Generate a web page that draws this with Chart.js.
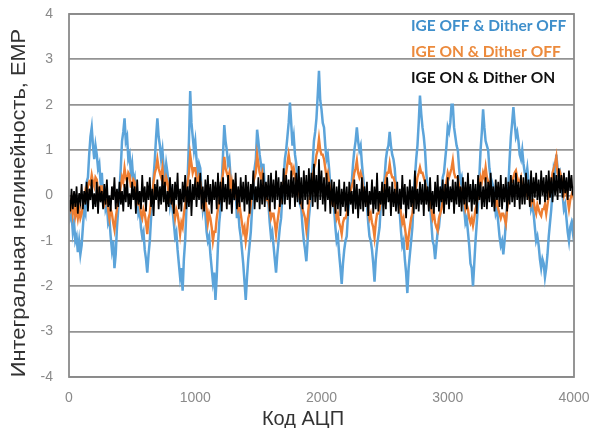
<!DOCTYPE html>
<html><head><meta charset="utf-8">
<script src="https://cdn.jsdelivr.net/npm/chart.js@4.4.1/dist/chart.umd.min.js"></script>
<style>html,body{margin:0;padding:0;background:#fff}#wrap{width:592px;height:428px}</style>
</head><body><div id="wrap"><canvas id="c" width="592" height="428"></canvas></div>
<script>
const xTitle = 'Код АЦП';
const yTitle = 'Интегральная нелинейность, ЕМР';
const seriesNames = ['IGE OFF & Dither OFF', 'IGE ON & Dither OFF', 'IGE ON & Dither ON'];
const xTickValues = [0, 1000, 2000, 3000, 4000];
const yTickValues = [-4, -3, -2, -1, 0, 1, 2, 3, 4];

// ADC code step of the sampled series (codes 0..4000)
const codeStep = 10;

// IGE OFF & Dither OFF
const blueValues = [
 -0.2,-0.5,-0.4,-0.8,-0.6,-1.0,-0.9,-1.25,-1.0,-1.3,
 -1.1,-0.7,-0.3,-0.4,0.3,0.4,0.9,1.3,1.5,1.1,
 0.8,1.1,0.9,0.6,0.7,0.3,0.5,0.0,0.2,-0.3,
 -0.2,-0.6,-0.5,-0.9,-1.2,-1.0,-1.6,-1.3,-0.7,-0.3,
 0.1,0.6,1.2,1.4,1.7,1.2,1.3,0.8,0.9,0.5,
 0.7,0.3,0.4,-0.1,0.1,-0.4,-0.3,-0.7,-0.9,-0.8,
 -1.2,-1.4,-1.7,-1.3,-1.0,-0.5,-0.1,0.4,0.8,1.3,
 1.7,1.3,1.1,0.8,1.0,0.6,0.4,0.7,0.5,0.2,
 -0.2,0.0,-0.3,-0.6,-0.9,-0.8,-1.2,-1.5,-1.8,-1.6,
 -2.1,-1.4,-1.0,-0.3,0.4,1.2,2.3,1.6,1.3,1.0,
 1.2,0.8,0.5,0.7,0.6,0.1,-0.3,-0.1,-0.4,-0.8,
 -1.0,-0.9,-1.3,-1.6,-1.9,-1.7,-2.3,-1.8,-1.1,-0.6,
 -0.3,0.3,0.9,1.55,1.2,1.0,0.7,0.8,0.4,0.2,
 0.2,-0.1,0.2,-0.5,-0.3,-0.7,-0.9,-1.2,-1.5,-1.9,
 -2.3,-1.8,-1.4,-1.1,-0.8,-0.3,0.3,0.6,0.8,1.45,
 1.2,0.9,0.7,0.5,0.7,0.2,0.1,-0.1,-0.2,-0.6,
 -0.9,-0.8,-1.1,-1.4,-1.7,-1.3,-1.0,-0.7,-0.5,0.0,
 0.4,0.8,1.0,1.3,1.6,2.05,1.6,1.1,1.3,0.9,
 0.7,0.3,0.0,-0.2,-0.3,-0.7,-1.0,-1.2,-1.45,-1.0,
 -0.5,-0.2,0.2,0.7,1.2,1.4,1.7,2.2,2.75,2.1,
 1.9,1.6,1.5,1.1,0.8,0.9,0.6,0.2,0.0,-0.1,
 -0.3,-0.7,-1.0,-0.9,-1.3,-1.6,-1.95,-1.5,-1.2,-1.0,
 -0.9,-0.4,-0.1,0.1,0.3,0.7,1.0,1.2,1.5,1.2,
 1.0,1.1,0.7,0.4,0.1,-0.1,-0.2,-0.6,-0.9,-1.0,
 -1.2,-1.5,-1.9,-1.4,-1.1,-0.9,-0.7,-0.2,0.1,0.2,
 0.4,0.8,1.0,1.1,1.4,1.1,0.9,0.8,0.6,0.2,
 -0.1,-0.2,-0.4,-0.8,-1.1,-1.0,-1.4,-1.7,-2.15,-1.6,
 -1.3,-1.0,-0.7,-0.1,0.4,0.8,1.1,1.6,2.2,1.8,
 1.5,1.3,1.0,0.5,0.2,0.0,-0.2,-0.6,-1.0,-1.1,
 -1.4,-1.1,-0.8,-0.7,-0.4,0.0,0.4,0.5,0.8,1.1,
 1.5,1.4,1.6,2.0,2.0,1.5,1.3,1.1,1.0,0.6,
 0.3,0.4,0.1,-0.3,-0.6,-0.5,-0.8,-1.1,-1.5,-1.6,
 -2.0,-1.5,-1.0,-0.6,-0.2,0.4,1.0,1.4,1.9,1.5,
 1.2,1.1,1.0,0.6,0.4,0.3,0.2,-0.1,-0.4,-0.3,
 -0.6,-0.9,-1.1,-1.0,-1.3,-1.0,-0.6,-0.2,0.2,0.8,
 1.3,1.6,1.95,1.6,1.3,1.4,1.2,0.9,0.8,1.0,
 0.7,0.5,0.4,0.6,0.3,0.1,-0.3,-0.2,-0.4,-0.7,
 -1.0,-0.9,-1.1,-1.4,-1.6,-1.4,-1.5,-1.8,-1.6,-1.3,
 -0.9,-0.6,-0.3,0.1,0.6,0.5,0.9,0.6,0.4,0.5,
 0.3,0.0,-0.3,-0.2,-0.5,-0.8,-1.0,-0.7,-0.6,-0.8,
 -0.5
];

// IGE ON & Dither OFF
const orangeValues = [
 -0.2,-0.3,-0.1,-0.4,-0.2,-0.45,-0.3,-0.5,-0.3,-0.5,
 -0.4,-0.2,-0.1,0.1,0.0,0.2,0.3,0.25,0.45,0.3,
 0.2,0.4,0.35,0.1,0.0,0.2,0.2,-0.1,-0.2,-0.1,
 -0.1,-0.3,-0.5,-0.3,-0.4,-0.6,-0.75,-0.5,-0.3,-0.1,
 0.0,0.2,0.4,0.3,0.6,0.4,0.3,0.5,0.45,0.2,
 0.2,0.35,0.3,0.0,-0.1,-0.2,-0.2,-0.4,-0.5,-0.3,
 -0.4,-0.6,-0.85,-0.5,-0.4,-0.1,0.0,0.3,0.5,0.6,
 0.8,0.6,0.5,0.4,0.6,0.3,0.2,0.4,0.3,0.0,
 -0.1,0.0,-0.2,-0.3,-0.5,-0.3,-0.4,-0.6,-0.85,-0.6,
 -0.7,-0.4,-0.2,0.0,0.3,0.5,0.9,0.7,0.5,0.6,
 0.6,0.4,0.2,0.4,0.3,0.0,-0.2,0.0,-0.1,-0.3,
 -0.6,-0.4,-0.5,-0.7,-1.0,-0.8,-0.8,-0.5,-0.3,-0.1,
 0.1,0.3,0.5,0.85,0.6,0.5,0.4,0.5,0.1,0.3,
 0.1,0.0,0.2,-0.1,-0.3,-0.2,-0.4,-0.6,-0.8,-0.7,
 -1.0,-0.8,-0.5,-0.4,-0.2,0.1,0.3,0.4,0.5,0.9,
 0.7,0.5,0.4,0.5,0.2,0.0,0.0,-0.1,-0.1,-0.3,
 -0.5,-0.4,-0.4,-0.6,-0.85,-0.6,-0.4,-0.2,-0.1,0.1,
 0.3,0.4,0.5,0.7,0.9,0.7,0.7,0.5,0.6,0.4,
 0.3,0.2,0.1,-0.1,-0.2,-0.3,-0.4,-0.5,-0.75,-0.5,
 -0.2,0.0,0.2,0.4,0.6,0.7,0.9,1.0,1.25,1.0,
 0.9,0.9,0.8,0.6,0.4,0.5,0.3,0.1,-0.1,0.0,
 -0.2,-0.3,-0.5,-0.4,-0.6,-0.7,-0.85,-0.6,-0.5,-0.5,
 -0.4,-0.2,0.0,0.1,0.2,0.3,0.5,0.6,0.77,0.5,
 0.4,0.5,0.4,0.1,0.0,0.0,-0.1,-0.3,-0.5,-0.4,
 -0.6,-0.7,-0.92,-0.6,-0.4,-0.4,-0.3,-0.1,0.1,0.1,
 0.2,0.4,0.5,0.5,0.7,0.5,0.4,0.4,0.3,0.1,
 -0.1,-0.1,-0.2,-0.4,-0.6,-0.5,-0.7,-0.9,-1.2,-0.9,
 -0.7,-0.5,-0.4,-0.1,0.1,0.2,0.4,0.5,0.62,0.5,
 0.5,0.4,0.3,0.1,0.0,0.0,-0.2,-0.3,-0.5,-0.4,
 -0.6,-0.7,-0.77,-0.5,-0.4,-0.3,-0.1,0.0,0.2,0.3,
 0.5,0.4,0.5,0.6,0.77,0.5,0.4,0.4,0.4,0.2,
 0.0,0.1,0.0,-0.1,-0.3,-0.2,-0.3,-0.5,-0.6,-0.5,
 -0.66,-0.5,-0.3,-0.2,0.0,0.2,0.4,0.3,0.5,0.4,
 0.62,0.4,0.3,0.3,0.2,0.0,-0.1,-0.1,-0.2,-0.1,
 -0.3,-0.4,-0.5,-0.4,-0.4,-0.5,-0.62,-0.3,-0.1,0.1,
 0.3,0.3,0.4,0.5,0.55,0.4,0.3,0.3,0.4,0.2,
 0.1,0.2,0.2,0.0,0.0,-0.1,-0.2,-0.1,-0.1,-0.3,
 -0.4,-0.2,-0.3,-0.4,-0.45,-0.3,-0.3,-0.2,-0.4,-0.2,
 0.0,0.2,0.3,0.5,0.6,0.7,0.85,0.5,0.4,0.5,
 0.4,0.2,0.0,0.1,0.1,-0.1,-0.3,-0.1,0.0,0.1,
 -0.1
];

// IGE ON & Dither ON
const blackValues = [
 -0.1,-0.35,0.15,-0.3,0.1,-0.25,0.2,-0.4,0.05,-0.15,
 0.25,-0.3,0.1,-0.2,0.3,-0.35,0.15,-0.1,0.35,-0.3,
 0.05,-0.25,0.3,-0.4,0.2,-0.15,0.1,-0.3,0.25,-0.2,
 0.35,-0.25,0.0,-0.35,0.2,-0.1,0.4,-0.3,0.15,-0.25,
 0.3,-0.2,0.1,-0.35,0.25,-0.15,0.4,-0.25,0.05,-0.3,
 0.3,-0.1,0.2,-0.4,0.35,-0.2,0.1,-0.3,0.45,-0.15,
 0.2,-0.35,0.3,-0.1,0.4,-0.25,0.15,-0.45,0.25,-0.1,
 0.35,-0.3,0.2,-0.2,0.45,-0.15,0.3,-0.35,0.1,-0.25,
 0.4,-0.2,0.25,-0.4,0.3,-0.1,0.5,-0.3,0.15,-0.35,
 0.3,-0.15,0.45,-0.3,0.2,-0.25,0.35,-0.45,0.25,-0.1,
 0.4,-0.25,0.3,-0.1,0.5,-0.3,0.2,-0.35,0.35,-0.15,
 0.45,-0.2,0.25,-0.4,0.35,-0.1,0.3,-0.3,0.5,-0.2,
 0.3,-0.35,0.4,-0.15,0.25,-0.3,0.45,-0.2,0.15,-0.4,
 0.35,-0.1,0.5,-0.3,0.2,-0.25,0.4,-0.15,0.3,-0.35,
 0.45,-0.2,0.3,-0.4,0.25,-0.1,0.55,-0.3,0.2,-0.15,
 0.4,-0.3,0.35,-0.2,0.5,-0.25,0.3,-0.1,0.45,-0.35,
 0.5,-0.15,0.35,-0.3,0.55,-0.1,0.4,-0.25,0.3,-0.2,
 0.6,-0.2,0.45,-0.1,0.35,-0.3,0.55,-0.05,0.4,-0.25,
 0.5,-0.15,0.65,-0.2,0.4,-0.3,0.55,-0.1,0.45,-0.2,
 0.6,-0.1,0.5,-0.25,0.7,-0.15,0.45,-0.3,0.8,-0.1,
 0.55,-0.2,0.4,-0.35,0.5,-0.1,0.3,-0.4,0.35,-0.25,
 0.3,-0.4,0.2,-0.3,0.35,-0.45,0.15,-0.25,0.3,-0.35,
 0.2,-0.45,0.3,-0.2,0.1,-0.4,0.35,-0.3,0.25,-0.5,
 0.15,-0.3,0.4,-0.35,0.2,-0.25,0.3,-0.45,0.1,-0.2,
 0.35,-0.4,0.2,-0.3,0.5,-0.35,0.1,-0.2,0.3,-0.45,
 0.25,-0.3,0.4,-0.15,0.2,-0.45,0.3,-0.25,0.15,-0.35,
 0.3,-0.4,0.15,-0.3,0.45,-0.2,0.25,-0.5,0.2,-0.3,
 0.35,-0.25,0.2,-0.4,0.55,-0.3,0.15,-0.35,0.3,-0.2,
 0.25,-0.45,0.35,-0.2,0.2,-0.35,0.4,-0.3,0.1,-0.4,
 0.3,-0.25,0.45,-0.35,0.2,-0.15,0.35,-0.4,0.25,-0.2,
 0.4,-0.3,0.2,-0.15,0.35,-0.4,0.3,-0.2,0.45,-0.25,
 0.2,-0.35,0.4,-0.2,0.3,-0.3,0.5,-0.15,0.25,-0.35,
 0.35,-0.2,0.25,-0.4,0.45,-0.1,0.3,-0.3,0.2,-0.25,
 0.4,-0.3,0.3,-0.15,0.5,-0.25,0.2,-0.35,0.35,-0.1,
 0.3,-0.25,0.45,-0.3,0.25,-0.15,0.4,-0.35,0.3,-0.2,
 0.45,-0.15,0.35,-0.25,0.5,-0.1,0.3,-0.3,0.45,-0.2,
 0.4,-0.2,0.5,-0.1,0.35,-0.25,0.55,-0.15,0.4,-0.05,
 0.5,-0.1,0.35,-0.2,0.55,0.0,0.4,-0.15,0.45,-0.1,
 0.55,-0.05,0.4,-0.15,0.5,0.0,0.45,-0.1,0.6,0.05,
 0.45,-0.05,0.5,0.05,0.4,-0.1,0.55,0.1,0.45,0.0,
 0.2
];

const colours = { blue: '#5ca4da', orange: '#ee7e32', black: '#000000' };
const legendColours = ['#3f8fcb', '#ec8a3c', '#111111'];

const toPoints = vals => vals.map((v, i) => ({ x: i * codeStep, y: v }));

const framePlugin = {
  id: 'frameAndText',
  afterDraw(chart) {
    const { ctx, chartArea: a } = chart;
    ctx.save();
    ctx.strokeStyle = '#8a8a8a';
    ctx.lineWidth = 1.8;
    ctx.strokeRect(a.left, a.top, a.right - a.left, a.bottom - a.top);
    // legend
    ctx.font = 'bold 15.5px Lato';
    ctx.textAlign = 'left';
    ctx.textBaseline = 'alphabetic';
    const ys = [31, 57, 83];
    seriesNames.forEach((n, i) => {
      ctx.fillStyle = legendColours[i];
      ctx.fillText(n, 411, ys[i]);
    });
    // axis titles
    ctx.fillStyle = '#333';
    ctx.font = '20px "Liberation Sans"';
    ctx.textAlign = 'center';
    ctx.fillText(xTitle, 303, 425);
    ctx.translate(25, 203);
    ctx.rotate(-Math.PI / 2);
    ctx.scale(1.09, 1);
    ctx.fillText(yTitle, 0, 0);
    ctx.restore();
  }
};

new Chart(document.getElementById('c'), {
  type: 'line',
  data: {
    datasets: [
      { label: seriesNames[2], data: toPoints(blackValues), borderColor: colours.black, borderWidth: 1.7, order: 1 },
      { label: seriesNames[1], data: toPoints(orangeValues), borderColor: colours.orange, borderWidth: 2.4, order: 2 },
      { label: seriesNames[0], data: toPoints(blueValues), borderColor: colours.blue, borderWidth: 2.5, order: 3 }
    ]
  },
  options: {
    responsive: false,
    animation: false,
    devicePixelRatio: 1,
    layout: { padding: { left: 0, top: 14, right: 18, bottom: 0 } },
    elements: { point: { radius: 0 }, line: { tension: 0 } },
    plugins: { legend: { display: false }, tooltip: { enabled: false }, title: { display: false } },
    scales: {
      x: {
        type: 'linear', min: 0, max: 4000,
        afterBuildTicks: s => { s.ticks = xTickValues.map(v => ({ value: v })); },
        ticks: { color: '#8a8a8a', font: { size: 14, family: 'Liberation Sans' }, padding: 13, maxRotation: 0, callback: v => String(v) },
        grid: { display: false, drawTicks: false },
        border: { display: false },
        afterFit: s => { s.height = 51; s.paddingLeft = 0; s.paddingRight = 0; s.paddingTop = 0; s.paddingBottom = 0; }
      },
      y: {
        min: -4, max: 4,
        afterBuildTicks: s => { s.ticks = yTickValues.map(v => ({ value: v })); },
        ticks: { color: '#8a8a8a', font: { size: 14, family: 'Liberation Sans' }, padding: 16, callback: v => String(v) },
        grid: { color: '#939393', lineWidth: 1.8, drawTicks: false },
        border: { display: false },
        afterFit: s => { s.width = 69; s.paddingLeft = 0; s.paddingRight = 0; s.paddingTop = 0; s.paddingBottom = 0; }
      }
    }
  },
  plugins: [framePlugin]
});
</script>
</body></html>
